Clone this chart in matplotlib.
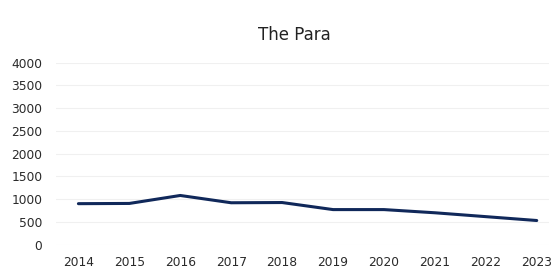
import matplotlib
matplotlib.use("Agg")
import matplotlib.pyplot as plt

years = ["2014", "2015", "2016", "2017", "2018", "2019", "2020", "2021", "2022", "2023"]
values = [900, 905, 1080, 920, 925, 770, 770, 700, 615, 530]
yticks = [0, 500, 1000, 1500, 2000, 2500, 3000, 3500, 4000]

fig = plt.figure(figsize=(5.55, 2.78), dpi=100)
ax = fig.add_axes([0.10, 0.12, 0.89, 0.655])

ax.plot(range(len(years)), values, color="#10285a", linewidth=2.2, solid_capstyle="round")

ax.set_ylim(0, 4000)
ax.set_yticks(yticks)
ax.set_xlim(-0.45, len(years) - 0.75)
ax.set_xticks(range(len(years)))
ax.set_xticklabels(years)
ax.grid(axis="y", color="#f0f0f0", linewidth=0.8)
for s in ax.spines.values():
    s.set_visible(False)
ax.tick_params(length=0, labelsize=8.8, colors="#2a2a2a", pad=8.5)
ax.tick_params(axis="y", pad=9.5)

fig.suptitle("The Para", x=0.53, y=0.905, fontsize=12, color="#222222")

fig.savefig("out.png", dpi=100)
